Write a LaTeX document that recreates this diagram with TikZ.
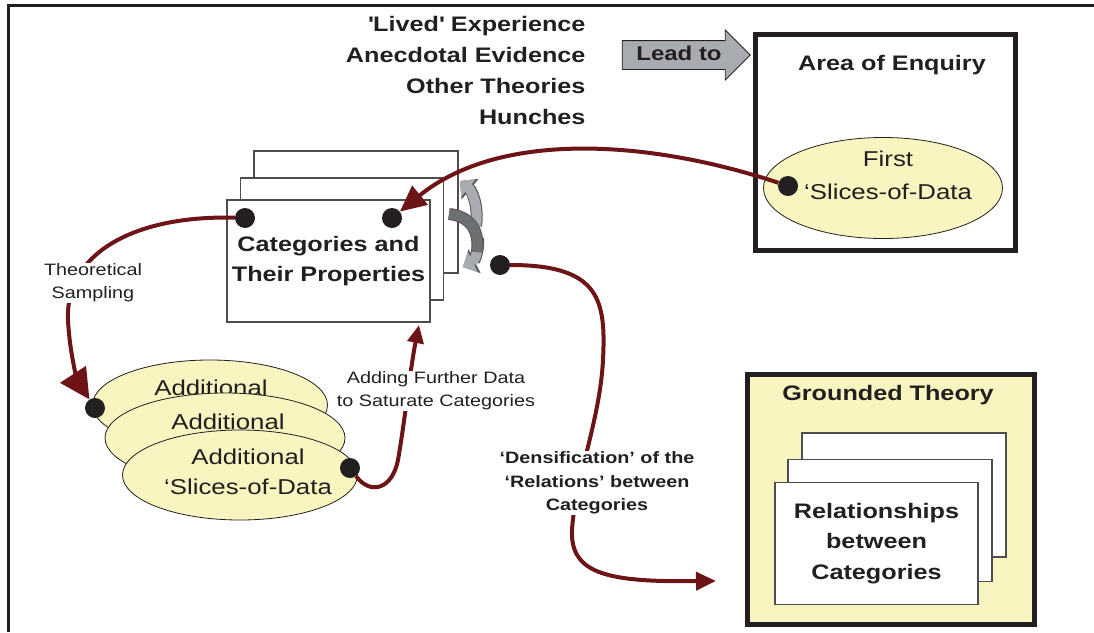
\documentclass[tikz,border=0pt]{standalone}
\usepackage{fontspec}
\setmainfont{Liberation Sans}[FakeStretch=1.2]
\usetikzlibrary{arrows.meta,shapes.geometric,shapes.arrows}
\definecolor{ink}{RGB}{35,31,32}
\definecolor{wine}{RGB}{108,20,22}
\definecolor{pale}{RGB}{248,245,193}
\definecolor{steel}{RGB}{168,172,177}
\begin{document}
\begin{tikzpicture}[x=1pt,y=-1pt,
	card/.style={draw=ink!80,line width=1.1pt,fill=white,minimum width=203pt,minimum height=122pt,inner sep=0pt},
	blob/.style={ellipse,draw=ink,line width=0.8pt,fill=pale,minimum width=235pt,minimum height=90pt},
	dot/.style={circle,fill=ink,inner sep=0pt,minimum size=20pt},
	flow/.style={draw=wine,line width=4pt},
	big/.style={font=\fontsize{21}{30}\selectfont\bfseries,text=ink,align=center},
	reg/.style={font=\fontsize{21.5}{30}\selectfont,text=ink,align=center,inner sep=0pt},
	small/.style={font=\fontsize{16.5}{23}\selectfont,text=ink,align=center,fill=white,inner sep=1pt},
	cycout/.style={draw=ink!75,line width=12pt},
	cycin/.style={draw=steel,line width=10pt}]
	\useasboundingbox (0,0) rectangle (1094,632);
	\draw[ink,line width=3pt] (8,632) -- (8,5) -- (1094,5);

	% sources and area of enquiry
	\node[big,align=right,anchor=east,font=\fontsize{21}{31}\selectfont\bfseries] (src) at (589,70)
		{\textquotesingle Lived\textquotesingle{} Experience\\Anecdotal Evidence\\Other Theories\\Hunches};
	\node[single arrow,draw=ink,line width=0.8pt,fill=steel,minimum height=128pt,single arrow head extend=10.5pt,
		text height=13pt,text depth=2pt,inner ysep=6.5pt,font=\fontsize{20}{24}\selectfont\bfseries,text=ink] (lead) at (679,55) {Lead to};
	\node[draw=ink,line width=5pt,minimum width=260pt,minimum height=216pt] (area) at (885.5,142.5) {};
	\node[big] (areat) at (892,65) {Area of Enquiry};
	\node[blob,minimum width=239pt,minimum height=101pt] (first) at (883,188) {};
	\node[reg,font=\fontsize{21.5}{33}\selectfont] (firstt) at (888,175) {First\\`Slices-of-Data};

	% categories
	\node[card,minimum width=204pt] (c3) at (356,212) {};
	\node[card] (c2) at (342,239) {};
	\node[card,big] (cat) at (328.5,261) {Categories and\\Their Properties};
	\foreach \s/\w/\l in {cycout/26/13,cycin/22/11} {
		\draw[\s,-{Triangle[length=\l pt,width=\w pt]}] (476,226) .. controls (479,204) and (471,190) .. (460,181);
		\draw[\s,-{Triangle[length=\l pt,width=\w pt]}] (478,238) .. controls (479,254) and (473,262) .. (463,267);
	}
	\draw[cycout] (449,214) .. controls (468,216) and (480,228) .. (477,252);
	\draw[cycin,draw=steel!65!black] (449,214) .. controls (468,216) and (480,228) .. (477,252);

	% additional slices
	\node[blob] (e1) at (210,405) {};
	\node[reg] (e1t) at (211,388) {Additional};
	\node[blob,minimum width=240pt] (e2) at (225,438) {};
	\node[reg] (e2t) at (228,422) {Additional};
	\node[blob] (e3) at (240,475) {};
	\node[reg] (e3t) at (248,472) {Additional\\`Slices-of-Data};

	% grounded theory
	\node[draw=ink,line width=5pt,fill=pale,minimum width=287pt,minimum height=250pt] (gt) at (891,499.5) {};
	\node[big] (gtt) at (888,395) {Grounded Theory};
	\node[card,minimum width=204pt,minimum height=124pt] (g3) at (904,495) {};
	\node[card,minimum width=204pt] (g2) at (890,520.5) {};
	\node[card,big,font=\fontsize{21}{30.5}\selectfont\bfseries] (rel) at (876.5,543.5) {Relationships\\between\\Categories};

	% dots
	\node[dot] (d1) at (788,186) {};
	\node[dot] (d2) at (392,218) {};
	\node[dot] (d3) at (245,218) {};
	\node[dot] (d4) at (500,265) {};
	\node[dot] (d5) at (95,408) {};
	\node[dot] (d6) at (350,468) {};
	\coordinate (addin) at (419,325);
	\coordinate (dens) at (716,581);

	% flows
	\draw[flow,-{Triangle[length=26pt,width=24pt]}] (d1) .. controls (650,140) and (500,130) .. (d2);
	\draw[flow,-{Triangle[length=30pt,width=30pt]}] (d3) .. controls (140,215) and (65,250) .. (68,320)
		.. controls (70,360) and (80,385) .. (d5);
	\draw[flow,-{Triangle[length=18pt,width=16pt]}] (d6) .. controls (370,495) and (392,490) .. (398,460)
		.. controls (405,420) and (410,370) .. (addin);
	\draw[flow,-{Triangle[length=20pt,width=18pt]}] (d4) .. controls (600,265) and (606,300) .. (603,360)
		.. controls (600,420) and (575,480) .. (572,530) .. controls (570,575) and (610,582) .. (dens);
	\node[small] (ts) at (93,283) {Theoretical\\Sampling};
	\node[small] (afd) at (436,391) {Adding Further Data\\to Saturate Categories};
	\node[small,font=\fontsize{16.5}{23.5}\selectfont\bfseries] (dr) at (597,483) {`Densification' of the\\`Relations' between\\Categories};
\end{tikzpicture}
\end{document}
